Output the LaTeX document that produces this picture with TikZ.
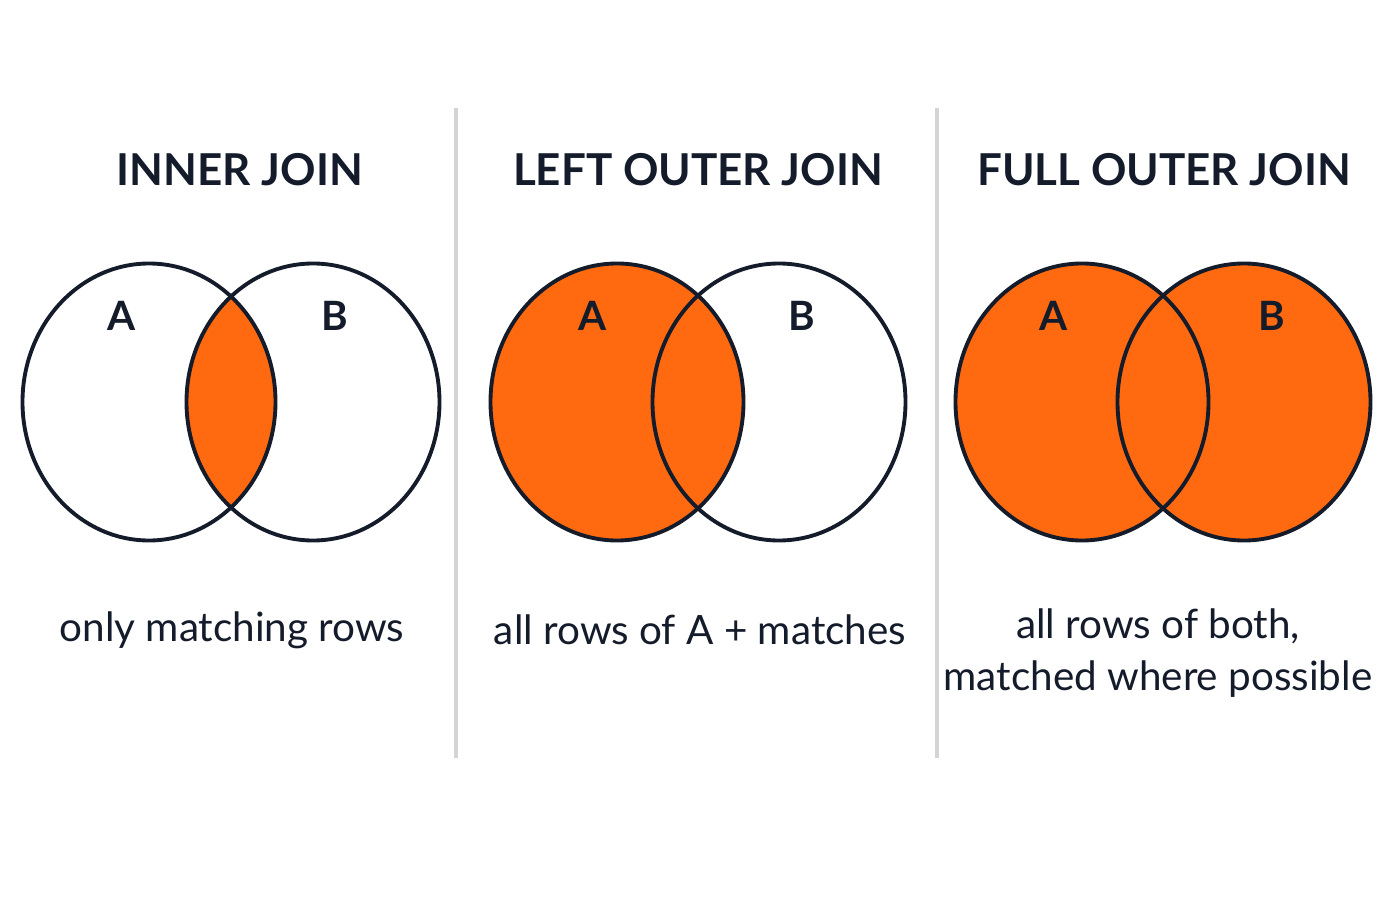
\documentclass[tikz,border=0pt]{standalone}
\usepackage{fontspec}
\setmainfont{Lato}
\usetikzlibrary{positioning}
\definecolor{joinorange}{HTML}{FF6A10}
\definecolor{joinink}{HTML}{141B2A}
\definecolor{rulegray}{HTML}{D4D4D4}
\newcommand{\crx}{1.265}
\newcommand{\cry}{1.385}

\begin{document}
\begin{tikzpicture}[
	title/.style={font=\fontsize{12.5}{15}\selectfont\bfseries, text=joinink},
	setlabel/.style={font=\fontsize{11.5}{14}\selectfont\bfseries, text=joinink},
	caption/.style={font=\fontsize{11.5}{15}\selectfont, text=joinink, align=center},
	ring/.style={draw=joinink, line width=1.1pt},
	divider/.style={draw=rulegray, line width=0.9pt}]
	\useasboundingbox (0,0) rectangle (14,9);
	%\draw[help lines] (0,0) grid (14,9);
	% inner join
	\begin{scope}
	\clip (1.49,4.98) ellipse ({\crx} and {\cry});
	\fill[joinorange] (3.13,4.98) ellipse ({\crx} and {\cry});
	\end{scope}
	\draw[ring] (1.49,4.98) ellipse ({\crx} and {\cry});
	\draw[ring] (3.13,4.98) ellipse ({\crx} and {\cry});
	% left outer join
	\fill[joinorange] (6.17,4.98) ellipse ({\crx} and {\cry});
	\draw[ring] (6.17,4.98) ellipse ({\crx} and {\cry});
	\draw[ring] (7.79,4.98) ellipse ({\crx} and {\cry});
	% full outer join
	\fill[joinorange] (10.82,4.98) ellipse ({\crx} and {\cry});
	\fill[joinorange] (12.44,4.98) ellipse ({\crx} and {\cry});
	\draw[ring] (10.82,4.98) ellipse ({\crx} and {\cry});
	\draw[ring] (12.44,4.98) ellipse ({\crx} and {\cry});

	\node[title] (t1) at (2.40,7.30) {INNER JOIN};
	\node[title] (t2) at (6.98,7.30) {LEFT OUTER JOIN};
	\node[title] (t3) at (11.64,7.30) {FULL OUTER JOIN};

	\node[setlabel] (a1) at (1.22,5.84) {A};
	\node[setlabel] (b1) at (3.35,5.84) {B};
	\node[setlabel] (a2) at (5.93,5.84) {A};
	\node[setlabel] (b2) at (8.02,5.84) {B};
	\node[setlabel] (a3) at (10.54,5.84) {A};
	\node[setlabel] (b3) at (12.72,5.84) {B};

	\node[caption] (c1) at (2.32,2.70) {only matching rows};
	\node[caption] (c2) at (7.00,2.70) {all rows of A + matches};
	\node[caption] (c3) at (11.58,2.47) {all rows of both,\\matched where possible};

	\coordinate (d1top) at (4.56,7.92);
	\coordinate (d1bot) at (4.56,1.42);
	\coordinate (d2top) at (9.37,7.92);
	\coordinate (d2bot) at (9.37,1.42);
	\draw[divider] (d1top) -- (d1bot);
	\draw[divider] (d2top) -- (d2bot);
\end{tikzpicture}
\end{document}
